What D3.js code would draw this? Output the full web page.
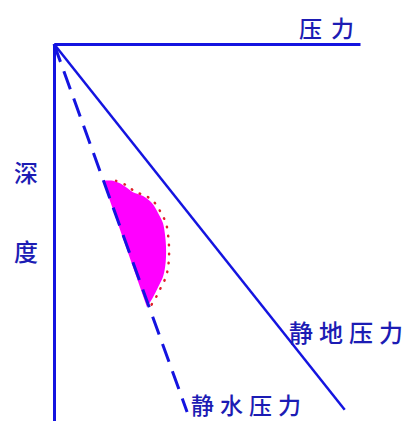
<!DOCTYPE html>
<html>
<head>
<meta charset="utf-8">
<script src="https://cdn.jsdelivr.net/npm/d3@7"></script>
<style>
  html, body { margin: 0; padding: 0; background: #fff; }
  svg text { font-family: "Noto Sans CJK SC", sans-serif; fill: #1c1cb4; font-weight: 500; }
</style>
</head>
<body>
<svg width="417" height="421"></svg>
<script>
// pressure (x) vs depth (y, downward), arbitrary units 0-100
var pressureDomain = [0, 100];
var depthDomain = [0, 100];

// lithostatic and hydrostatic gradients: [pressure, depth]
var lithostatic = [[0, 0], [95, 97]];
var hydrostatic = [[0, 0], [43.5, 97.6]];

// overpressured zone boundary: [pressure, depth]
var overpressure = [
    [16.0, 36.3], [19.3, 36.3], [22.5, 37.4], [25.8, 39.3], [29.1, 40.3],
    [32.0, 42.2], [34.0, 44.8], [35.6, 47.5], [36.3, 50.7], [36.6, 53.6],
    [36.6, 56.5], [36.3, 59.2], [35.6, 61.8], [34.0, 64.5], [32.4, 67.1],
    [30.4, 69.8]
];

var labels = {
    pressure: "压力",
    depth: ["深", "度"],
    litho: "静地压力",
    hydro: "静水压力"
};

var blue = "#1414e0";

var svg = d3.select("svg");

var x = d3.scaleLinear().domain(pressureDomain).range([54, 360]);
var y = d3.scaleLinear().domain(depthDomain).range([44, 421]);

// axes without ticks
svg.append("g")
    .attr("transform", "translate(0," + y(0) + ")")
    .call(d3.axisTop(x).ticks(0).tickSizeOuter(0));
svg.append("g")
    .attr("transform", "translate(" + x(0) + ",0)")
    .call(d3.axisLeft(y).ticks(0).tickSizeOuter(0));
svg.selectAll(".domain")
    .attr("stroke", blue)
    .attr("stroke-width", 3);

var line = d3.line().x(d => x(d[0])).y(d => y(d[1]));

// overpressure zone (closed along the hydrostatic line)
svg.append("path")
    .attr("d", d3.line().x(d => x(d[0])).y(d => y(d[1])).curve(d3.curveCatmullRom)(overpressure) + "Z")
    .attr("fill", "#ff00ff")
    .attr("stroke", "none");

svg.append("path")
    .datum(overpressure.slice(1))
    .attr("d", d3.line().x(d => x(d[0]) + 3).y(d => y(d[1])).curve(d3.curveCatmullRom))
    .attr("fill", "none")
    .attr("stroke", "#e0202a")
    .attr("stroke-width", 2.5)
    .attr("stroke-linecap", "round")
    .attr("stroke-dasharray", "0.5 8.5");

svg.append("path")
    .datum(lithostatic)
    .attr("d", line)
    .attr("fill", "none")
    .attr("stroke", blue)
    .attr("stroke-width", 2.5);

svg.append("path")
    .datum(hydrostatic)
    .attr("d", line)
    .attr("fill", "none")
    .attr("stroke", blue)
    .attr("stroke-width", 3)
    .attr("stroke-dasharray", "19 10");

// labels
svg.append("text")
    .attr("x", 299).attr("y", 27)
    .attr("dominant-baseline", "central")
    .style("font-size", "23px")
    .style("letter-spacing", "9px")
    .text(labels.pressure);

svg.selectAll(".depth-label")
    .data(labels.depth)
    .join("text")
    .attr("class", "depth-label")
    .attr("x", 14)
    .attr("y", (d, i) => i === 0 ? 171 : 250)
    .attr("dominant-baseline", "central")
    .style("font-size", "24px")
    .text(d => d);

svg.append("text")
    .attr("x", 289).attr("y", 331)
    .attr("dominant-baseline", "central")
    .style("font-size", "24px")
    .style("letter-spacing", "6px")
    .text(labels.litho);

svg.append("text")
    .attr("x", 191).attr("y", 404)
    .attr("dominant-baseline", "central")
    .style("font-size", "23px")
    .style("letter-spacing", "6px")
    .text(labels.hydro);
</script>
</body>
</html>
